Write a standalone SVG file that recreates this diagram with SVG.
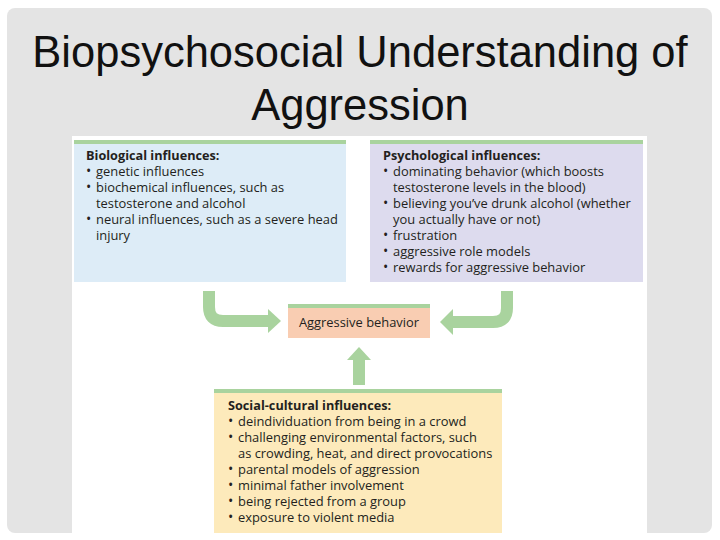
<svg xmlns="http://www.w3.org/2000/svg" width="720" height="540" viewBox="0 0 720 540">
<defs>
<style>
.title{font-family:"Liberation Sans",Arial,sans-serif;font-size:43.5px;fill:#111;text-anchor:middle}
.t{font-family:"Open Sans","Noto Sans",sans-serif;font-size:12.9px;fill:#231f20}
.h{font-weight:bold;font-size:12.7px}
.b{font-size:14px}
.bar{fill:#a9d39e}
.arr{fill:none;stroke:#a9d39e;stroke-width:12}
.head{fill:#a9d39e}
</style>
</defs>
<rect x="0" y="0" width="720" height="540" fill="#ffffff"/>
<rect x="7" y="8" width="705" height="525" rx="8" fill="#e4e4e4"/>
<text class="title" x="360" y="67">Biopsychosocial Understanding of</text>
<text class="title" x="360" y="120">Aggression</text>
<rect x="72" y="136" width="575" height="397" fill="#ffffff"/>

<g id="biological">
<rect x="74" y="140" width="272" height="142" fill="#ddecf7"/>
<rect class="bar" x="74" y="140" width="272" height="4"/>
<text class="t h" x="86" y="160">Biological influences:</text>
<text class="t" y="176"><tspan class="b" x="86">•</tspan><tspan x="96">genetic influences</tspan></text>
<text class="t" y="192"><tspan class="b" x="86">•</tspan><tspan x="96">biochemical influences, such as</tspan></text>
<text class="t" x="96" y="208">testosterone and alcohol</text>
<text class="t" y="224"><tspan class="b" x="86">•</tspan><tspan x="96">neural influences, such as a severe head</tspan></text>
<text class="t" x="96" y="240">injury</text>
</g>

<g id="psychological">
<rect x="370" y="140" width="273" height="142" fill="#dddbee"/>
<rect class="bar" x="370" y="140" width="273" height="4"/>
<text class="t h" x="383" y="160">Psychological influences:</text>
<text class="t" y="176"><tspan class="b" x="383">•</tspan><tspan x="393">dominating behavior (which boosts</tspan></text>
<text class="t" x="393" y="192">testosterone levels in the blood)</text>
<text class="t" y="208"><tspan class="b" x="383">•</tspan><tspan x="393">believing you’ve drunk alcohol (whether</tspan></text>
<text class="t" x="393" y="224">you actually have or not)</text>
<text class="t" y="240"><tspan class="b" x="383">•</tspan><tspan x="393">frustration</tspan></text>
<text class="t" y="256"><tspan class="b" x="383">•</tspan><tspan x="393">aggressive role models</tspan></text>
<text class="t" y="272"><tspan class="b" x="383">•</tspan><tspan x="393">rewards for aggressive behavior</tspan></text>
</g>

<g id="aggressive">
<rect x="288" y="304" width="142" height="34" fill="#f9cdb2"/>
<rect class="bar" x="288" y="304" width="142" height="4"/>
<text class="t" x="359" y="327" text-anchor="middle">Aggressive behavior</text>
</g>

<g id="social">
<rect x="214" y="389" width="288" height="144" fill="#fdeabb"/>
<rect class="bar" x="214" y="389" width="288" height="4"/>
<text class="t h" x="228" y="410">Social-cultural influences:</text>
<text class="t" y="426"><tspan class="b" x="228">•</tspan><tspan x="238">deindividuation from being in a crowd</tspan></text>
<text class="t" y="442"><tspan class="b" x="228">•</tspan><tspan x="238">challenging environmental factors, such</tspan></text>
<text class="t" x="238" y="458">as crowding, heat, and direct provocations</text>
<text class="t" y="474"><tspan class="b" x="228">•</tspan><tspan x="238">parental models of aggression</tspan></text>
<text class="t" y="490"><tspan class="b" x="228">•</tspan><tspan x="238">minimal father involvement</tspan></text>
<text class="t" y="506"><tspan class="b" x="228">•</tspan><tspan x="238">being rejected from a group</tspan></text>
<text class="t" y="522"><tspan class="b" x="228">•</tspan><tspan x="238">exposure to violent media</tspan></text>
</g>

<g id="connectors">
<path class="arr" d="M209 291 V307 Q209 321 223 321 H269"/>
<polygon class="head" points="268,309 281,321 268,333"/>
<path class="arr" d="M507 291 V308 Q507 322 493 322 H452"/>
<polygon class="head" points="453,309 440,322 453,335"/>
<path class="arr" d="M359 385 V358"/>
<polygon class="head" points="347,360 359,347 371,360"/>
</g>
</svg>
